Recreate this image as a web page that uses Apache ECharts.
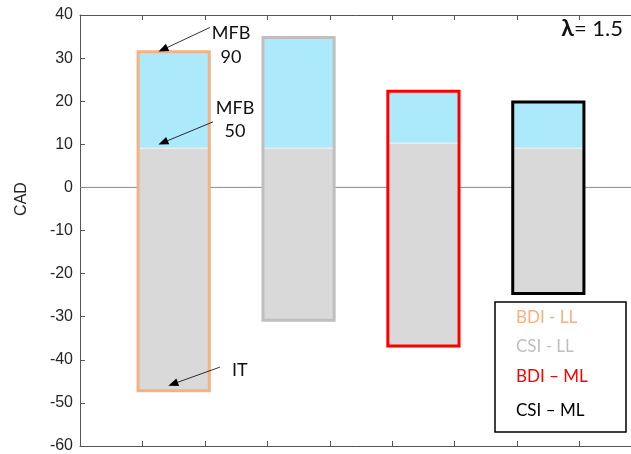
<!DOCTYPE html>
<html><head><meta charset="utf-8">
<script src="https://cdn.jsdelivr.net/npm/echarts@6/dist/echarts.min.js"></script>
<style>html,body{margin:0;padding:0;background:#fff;overflow:hidden}#c{width:631px;height:454px}</style>
</head><body><div id="c"></div>
<script>
const categories = ['BDI - LL', 'CSI - LL', 'BDI \u2013 ML', 'CSI \u2013 ML'];
const positions = [1.5, 3.5, 5.5, 7.5];
const itValues = [-47.2, -30.8, -36.8, -24.6];
const mfb50Values = [9, 9, 10.2, 9];
const mfb90Values = [31.5, 34.8, 22.3, 19.8];
const borderColors = ['#F4B183', '#BFBFBF', '#FF0000', '#000000'];
const yTicks = [-60, -50, -40, -30, -20, -10, 0, 10, 20, 30, 40];

const chart = echarts.init(document.getElementById('c'));
const barData = positions.map((p, i) => [p, itValues[i], mfb50Values[i], mfb90Values[i], i]);
const BAR_W = 1.14;

const axisColor = '#555';
const option = {
  animation: false,
  grid: { left: 80, top: 15, width: 562, height: 431, containLabel: false, outerBoundsMode: 'none' },
  xAxis: [
    { type: 'value', min: 0, max: 9, interval: 1, position: 'bottom',
      axisLine: { show: true, onZero: false, lineStyle: { color: axisColor, width: 1 } },
      axisTick: { show: true, inside: true, length: 5, lineStyle: { color: axisColor } },
      axisLabel: { show: false }, splitLine: { show: false } },
    { type: 'value', min: 0, max: 9, interval: 1, position: 'top',
      axisLine: { show: true, onZero: false, lineStyle: { color: axisColor, width: 1 } },
      axisTick: { show: true, inside: true, length: 5, lineStyle: { color: axisColor } },
      axisLabel: { show: false }, splitLine: { show: false } }
  ],
  yAxis: {
    type: 'value', min: yTicks[0], max: yTicks[yTicks.length - 1], interval: 10,
    axisLine: { show: true, onZero: false, lineStyle: { color: axisColor, width: 1 } },
    axisTick: { show: true, inside: true, length: 5, lineStyle: { color: axisColor } },
    axisLabel: { fontFamily: 'Liberation Sans', fontSize: 16, color: '#262626', margin: 7 },
    splitLine: { show: false }
  },
  series: [
    { type: 'line', data: [[0, 0], [9, 0]], symbol: 'none', z: 1, silent: true,
      lineStyle: { color: '#8a8a8a', width: 1 } },
    { type: 'custom', z: 3, data: barData,
      renderItem: function (params, api) {
        const x = api.value(0), lo = api.value(1), mid = api.value(2), hi = api.value(3), idx = api.value(4);
        const pBL = api.coord([x - BAR_W / 2, lo]);
        const pMid = api.coord([x + BAR_W / 2, mid]);
        const pTR = api.coord([x + BAR_W / 2, hi]);
        const left = pBL[0], right = pTR[0];
        return { type: 'group', children: [
          { type: 'rect', shape: { x: left, y: pMid[1], width: right - left, height: pBL[1] - pMid[1] },
            style: { fill: '#D9D9D9' } },
          { type: 'rect', shape: { x: left, y: pTR[1], width: right - left, height: pMid[1] - pTR[1] - 0.8 },
            style: { fill: '#ABE9FB' } },
          { type: 'rect', shape: { x: left, y: pTR[1], width: right - left, height: pBL[1] - pTR[1] },
            style: { fill: 'none', stroke: borderColors[idx], lineWidth: 3 } }
        ]};
      },
      markLine: {
        silent: true, label: { show: false }, symbol: ['none', 'triangle'], symbolSize: [8, 10],
        lineStyle: { color: '#000', width: 0.8, type: 'solid' },
        data: [
          [{ coord: [2.08, 37.1] }, { coord: [1.33, 32.0] }],
          [{ coord: [2.13, 15.2] }, { coord: [1.33, 10.4] }],
          [{ coord: [2.24, -41.7] }, { coord: [1.49, -45.6] }]
        ]
      }
    }
  ],
  graphic: [
    { type: 'text', x: 22, y: 199, rotation: Math.PI / 2, style: { text: 'CAD', font: '16px "Liberation Sans"', fill: '#222', align: 'center', verticalAlign: 'middle' } },
    { type: 'text', x: 231, y: 33, style: { text: 'MFB', font: '18px Lato', fill: '#111', align: 'center', verticalAlign: 'middle' } },
    { type: 'text', x: 231, y: 57, style: { text: '90', font: '18px Lato', fill: '#111', align: 'center', verticalAlign: 'middle' } },
    { type: 'text', x: 235, y: 108, style: { text: 'MFB', font: '18px Lato', fill: '#111', align: 'center', verticalAlign: 'middle' } },
    { type: 'text', x: 235, y: 131, style: { text: '50', font: '18px Lato', fill: '#111', align: 'center', verticalAlign: 'middle' } },
    { type: 'text', x: 232, y: 370, style: { text: 'IT', font: '18px Lato', fill: '#111', align: 'left', verticalAlign: 'middle' } },
    { type: 'text', x: 623, y: 29, style: { text: '{b|\u03BB}{n|= 1.5}', align: 'right', verticalAlign: 'middle',
        rich: { b: { font: 'bold 23px Lato', fill: '#111' }, n: { font: '22px Lato', fill: '#111' } } } },
    { type: 'rect', shape: { x: 495, y: 302, width: 131, height: 130 }, style: { fill: '#fff', stroke: '#000', lineWidth: 1.5 }, z: 10 },
    { type: 'text', x: 516, y: 318, z: 11, style: { text: categories[0], font: '17px Lato', fill: borderColors[0], verticalAlign: 'middle' } },
    { type: 'text', x: 516, y: 347, z: 11, style: { text: categories[1], font: '17px Lato', fill: borderColors[1], verticalAlign: 'middle' } },
    { type: 'text', x: 516, y: 377, z: 11, style: { text: categories[2], font: '17px Lato', fill: borderColors[2], verticalAlign: 'middle' } },
    { type: 'text', x: 516, y: 411, z: 11, style: { text: categories[3], font: '17px Lato', fill: borderColors[3], verticalAlign: 'middle' } }
  ]
};
chart.setOption(option);
</script></body></html>
